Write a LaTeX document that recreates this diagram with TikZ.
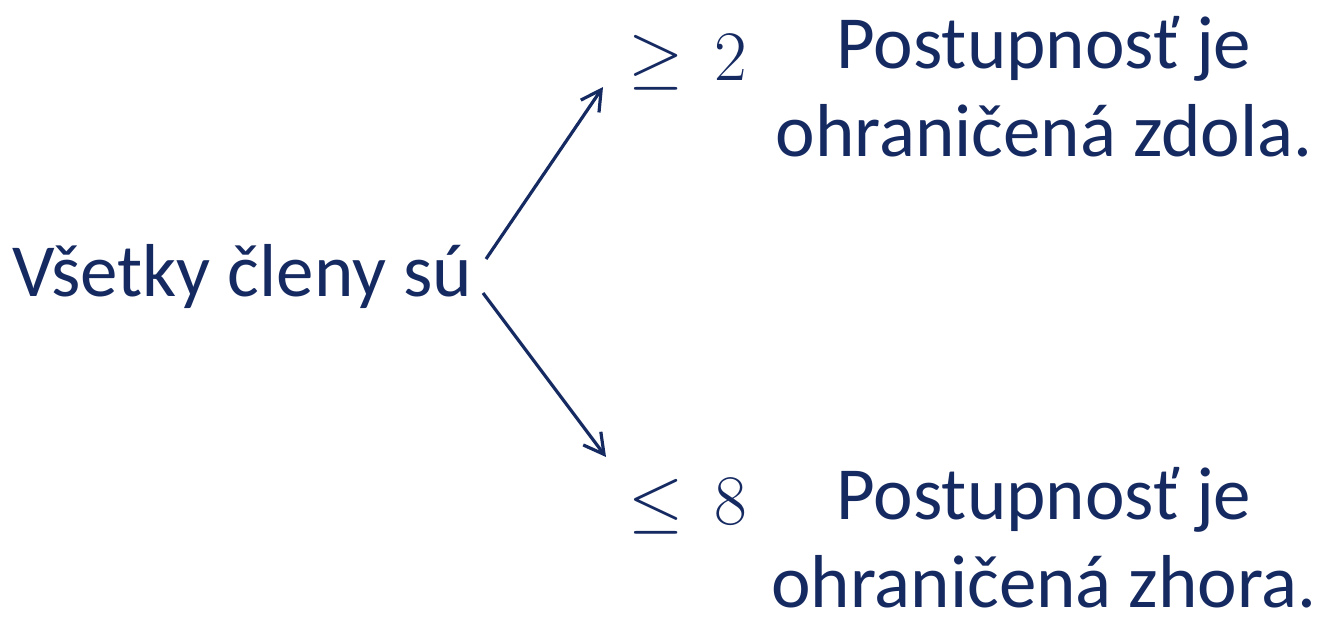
\RequirePackage{fix-cm}
\documentclass[tikz,border=0pt]{standalone}
\usepackage{fontspec}
\setmainfont{Carlito}
\usetikzlibrary{arrows.meta}
\definecolor{navy}{RGB}{22,42,98}
\tikzset{
  txt/.style={text=navy, inner sep=0pt, font=\fontsize{75}{88}\selectfont},
  mth/.style={text=navy, inner sep=0pt, font=\fontsize{71}{76}\selectfont},
  arr/.style={draw=navy, line width=3.2pt, -{Straight Barb[length=20pt,width=22pt,line width=3.2pt]}}
}
\begin{document}
\begin{tikzpicture}[x=1pt,y=-1pt]
\useasboundingbox (0,0) rectangle (1319,617);
\node[txt, anchor=base west] (src) at (12,297) {Všetky členy sú};
\node[mth, anchor=base west] (ge) at (628,81) {$\geq\,2$};
\node[mth, anchor=base west] (le) at (628,524) {$\leq\,8$};
\node[txt, anchor=base, align=center] (up) at (1044,157) {Postupnosť je\\ohraničená zdola.};
\node[txt, anchor=base, align=center] (lo) at (1044,607) {Postupnosť je\\ohraničená zhora.};
\coordinate (us) at (486,259);
\coordinate (ue) at (603,87);
\coordinate (ls) at (483,293);
\coordinate (le2) at (606,457);
\draw[arr] (us) -- (ue);
\draw[arr] (ls) -- (le2);
\end{tikzpicture}
\end{document}
